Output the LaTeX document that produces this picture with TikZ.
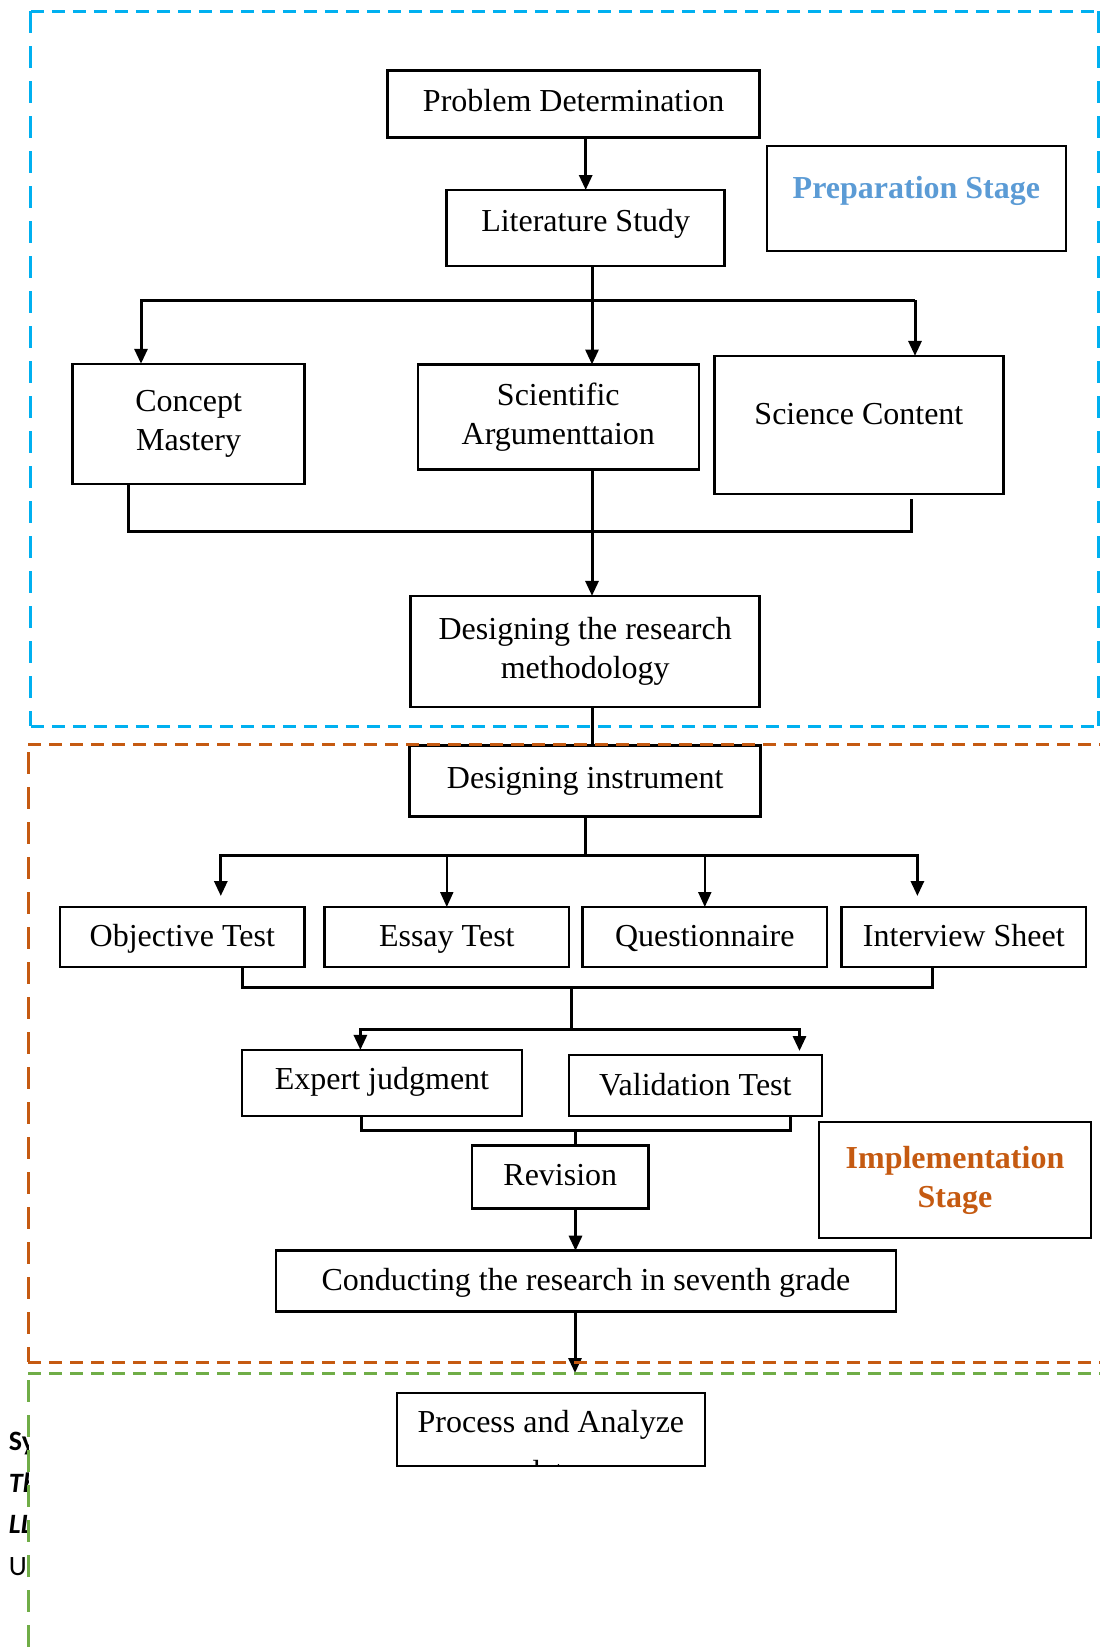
\documentclass[tikz,border=0pt]{standalone}
\usepackage{fontspec}
\setmainfont{Liberation Serif}
\newfontfamily\cutfont{Carlito}
\usetikzlibrary{positioning}
\usetikzlibrary{calc,arrows.meta}

\definecolor{prepline}{HTML}{00B0F0}
\definecolor{preptext}{HTML}{5B9BD5}
\definecolor{implcol}{HTML}{C55A11}
\definecolor{anacol}{HTML}{70AD47}

\begin{document}
\begin{tikzpicture}[x=1pt,y=-1pt,every node/.style={outer sep=0pt},
		font=\fontsize{32}{39}\selectfont,
		stepbox/.style={draw,line width=2.6pt,inner sep=0pt,align=center},
		oneline/.style={text height=22pt,text depth=8pt},
		testbox/.style={stepbox,text height=22pt,text depth=4pt,minimum width=244.5pt,minimum height=60pt},
		conn/.style={line width=3pt},
		flow/.style={line width=3pt,-{Triangle[length=15pt,width=13pt]}},
		thinflow/.style={line width=2pt,-{Triangle[length=15pt,width=13pt]}},
		stagebox/.style={draw,line width=2.6pt,align=center,font=\fontsize{32}{39}\selectfont\bfseries},
		hdash/.style={line width=3pt,dash pattern=on 13pt off 8pt},
		vdash/.style={line width=3pt,dash pattern=on 22pt off 13pt},
		]
		\path[use as bounding box] (0,0) rectangle (1100,1647);

		% preparation stage
		\node[stepbox,oneline,minimum width=372pt,minimum height=67pt] (pd) at (573.6,104) {Problem Determination};
		\node[stepbox,oneline,text depth=16pt,minimum width=278pt,minimum height=76pt] (ls) at (585.7,228) {Literature Study};
		\node[stagebox,text=preptext,text height=22pt,text depth=22pt,minimum width=299pt,minimum height=105pt] (prep) at (916.4,198.4) {Preparation Stage};

		\node[stepbox,minimum width=232pt,minimum height=120pt] (cm) at (188.6,423.8) {Concept\\Mastery};
		\node[stepbox,minimum width=281pt,minimum height=105pt] (sa) at (558.3,417) {Scientific\\Argumenttaion};
		\node[stepbox,text height=22pt,text depth=22pt,minimum width=289pt,minimum height=138pt] (sc) at (858.9,424.9) {Science Content};
		\node[stepbox,minimum width=349pt,minimum height=111pt] (drm) at (585.2,651.4) {Designing the research\\methodology};

		\draw[flow] (ls.north |- pd.south) -- (ls.north);

		\coordinate (split1) at (592,300);
		\coordinate (cmin) at (141,300);
		\coordinate (scin) at (915,300);
		\draw[flow] (ls.south -| split1) -- (split1 |- sa.north);
		\draw[flow] (scin) -- (cmin) -- (cmin |- cm.north);
		\draw[flow] (scin) -- (scin |- sc.north);

		\coordinate (cmout) at (128.4,531);
		\coordinate (scout) at (911,531);
		\draw[conn] (cmout |- cm.south) -- (cmout) -- (scout) -- ($(scout |- sc.south)+(0,5)$);
		\draw[flow] (sa.south -| split1) -- (split1 |- drm.north);

		% implementation stage
		\node[stepbox,oneline,minimum width=351pt,minimum height=71pt] (di) at (585.2,781) {Designing instrument};
		\draw[conn] (drm.south -| split1) -- (split1 |- di.north);

		\node[testbox] (ot) at (182.3,937) {Objective Test};
		\node[testbox,right=20pt of ot] (et) {Essay Test};
		\node[testbox,right=13.5pt of et] (qn) {Questionnaire};
		\node[testbox,right=14.5pt of qn] (is) {Interview Sheet};

		\coordinate (split2) at (585.8,855);
		\coordinate (otin) at (220.8,855);
		\coordinate (isin) at (917.4,855);
		\draw[conn] (di.south -| split2) -- (split2);
		\draw[flow] (split2) -- (otin) -- ($(otin |- ot.north)+(0,-11)$);
		\draw[flow] (split2) -- (isin) -- ($(isin |- is.north)+(0,-11)$);
		\draw[thinflow] (et.north |- split2) -- (et.north);
		\draw[thinflow] (qn.north |- split2) -- (qn.north);

		\node[stepbox,oneline,minimum width=280pt,minimum height=66pt] (ej) at (382,1082.9) {Expert judgment};
		\node[stepbox,oneline,text depth=2pt,minimum width=253pt,minimum height=61pt] (vt) at (695.3,1085.5) {Validation Test};

		\coordinate (otout) at (242.2,987);
		\coordinate (isout) at (932.8,987);
		\coordinate (split3) at (571,987);
		\coordinate (split4) at (571,1029);
		\coordinate (ejin) at (360.4,1029);
		\coordinate (vtin) at (799.5,1029);
		\draw[conn] (otout |- ot.south) -- (otout) -- (isout) -- (isout |- is.south);
		\draw[conn] (split3) -- (split4);
		\draw[flow] (split4) -- (ejin) -- (ejin |- ej.north);
		\draw[flow] (split4) -- (vtin) -- ($(vtin |- vt.north)+(0,-4)$);

		\node[stepbox,oneline,text depth=4pt,minimum width=176.5pt,minimum height=63pt] (rev) at (560.3,1176.7) {Revision};
		\node[stagebox,text=implcol,minimum width=272pt,minimum height=116pt] (impl) at (955,1180) {Implementation\\Stage};
		\node[stepbox,oneline,text depth=3pt,minimum width=620pt,minimum height=61pt] (crs) at (585.9,1281.2) {Conducting the research in seventh grade};

		\coordinate (ejout) at (361.5,1130);
		\coordinate (vtout) at (790,1130);
		\coordinate (split5) at (575.5,1130);
		\draw[conn] (ejout |- ej.south) -- (ejout) -- (vtout) -- (vtout |- vt.south);
		\draw[conn] (split5) -- (split5 |- rev.north);
		\draw[flow] (rev.south -| split5) -- (split5 |- crs.north);

		% analysis stage
		\coordinate (anatop) at (575,1373);
		\draw[flow] (crs.south -| anatop) -- (anatop);
		\node[stepbox,minimum width=308pt,minimum height=73pt] (pa) at (550.9,1429.5) {};
		\begin{scope}
			\clip ($(pa.south west)+(1.3,-1.3)$) rectangle ($(pa.north east)+(-1.3,1.3)$);
			\node[align=center,inner sep=0pt] (patext) at (550.9,1447) {Process and Analyze\\[11pt]data};
		\end{scope}

		\begin{scope}
			\clip (0,1400) rectangle (28,1647);
			\node[anchor=base west,inner sep=0pt,font=\cutfont\fontsize{28}{34}\selectfont\bfseries] (cut1) at (9,1450) {Sy};
			\node[anchor=base west,inner sep=0pt,font=\cutfont\fontsize{28}{34}\selectfont\bfseries\itshape] (cut2) at (9,1492) {Th};
			\node[anchor=base west,inner sep=0pt,font=\cutfont\fontsize{28}{34}\selectfont\bfseries\itshape] (cut3) at (9,1533) {LL};
			\node[anchor=base west,inner sep=0pt,font=\cutfont\fontsize{28}{34}\selectfont] (cut4) at (9,1575) {Un};
		\end{scope}

		% stage frames
		\draw[hdash,prepline] (30.9,11) -- (1098.5,11);
		\draw[hdash,prepline] (30.9,726) -- (1098.5,726);
		\draw[vdash,prepline] (30.9,11) -- (30.9,726);
		\draw[vdash,prepline] (1098.5,11) -- (1098.5,726);
		\draw[hdash,implcol] (28,744.5) -- (1110,744.5);
		\draw[hdash,implcol] (28,1362) -- (1110,1362);
		\draw[vdash,implcol] (28,752) -- (28,1362);
		\draw[hdash,anacol] (28,1373) -- (1110,1373);
		\draw[vdash,anacol] (28,1380) -- (28,1660);
\end{tikzpicture}
\end{document}
